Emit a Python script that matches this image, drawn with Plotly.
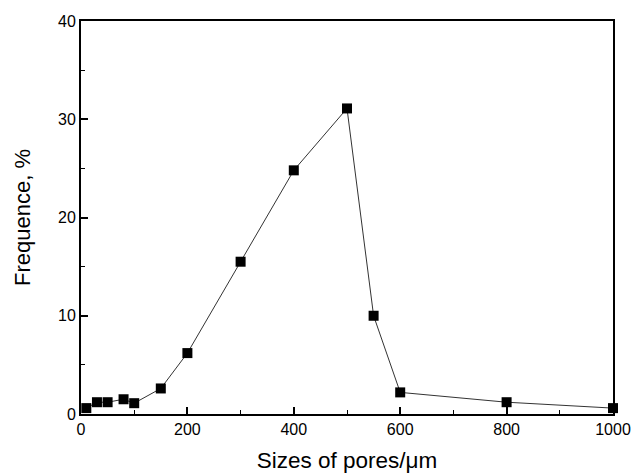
import plotly.graph_objects as go

pore_size = [10, 30, 50, 80, 100, 150, 200, 300, 400, 500, 550, 600, 800, 1000]
frequency = [0.6, 1.2, 1.2, 1.5, 1.1, 2.6, 6.2, 15.5, 24.8, 31.1, 10.0, 2.2, 1.2, 0.6]

fig = go.Figure()
fig.add_trace(go.Scatter(
    x=pore_size, y=frequency, mode="lines+markers",
    line=dict(color="#333333", width=1),
    marker=dict(symbol="square", size=10, color="black"),
    cliponaxis=False, showlegend=False,
))

font = "Liberation Sans, Arial, sans-serif"
fig.update_layout(
    width=632, height=474,
    margin=dict(l=81, r=19, t=21, b=60),
    paper_bgcolor="white", plot_bgcolor="white",
    font=dict(family=font, color="black"),
)
fig.update_xaxes(
    range=[0, 1000], tickvals=[0, 200, 400, 600, 800, 1000],
    ticks="inside", ticklen=7, tickwidth=1.5, tickcolor="black",
    minor=dict(ticks="inside", dtick=100, ticklen=4, tickcolor="black", tickwidth=1),
    showline=True, linecolor="black", linewidth=2, mirror=True,
    showgrid=False, zeroline=False, automargin=False,
    tickfont=dict(size=16, family=font),
    title=dict(text="Sizes of pores/μm", font=dict(size=22.5, family=font), standoff=15),
)
fig.update_yaxes(
    range=[0, 40], tickvals=[0, 10, 20, 30, 40],
    ticks="inside", ticklen=7, tickwidth=1.5, tickcolor="black",
    minor=dict(ticks="inside", dtick=5, ticklen=4, tickcolor="black", tickwidth=1),
    showline=True, linecolor="black", linewidth=2, mirror=True,
    showgrid=False, zeroline=False, automargin=False,
    tickfont=dict(size=16, family=font),
    title=dict(text="Frequence, %", font=dict(size=22, family=font), standoff=21),
)

fig.write_html(
    "out.html",
    config={"displayModeBar": False},
    post_script="document.body.style.margin='0';document.body.style.overflow='hidden';",
)
